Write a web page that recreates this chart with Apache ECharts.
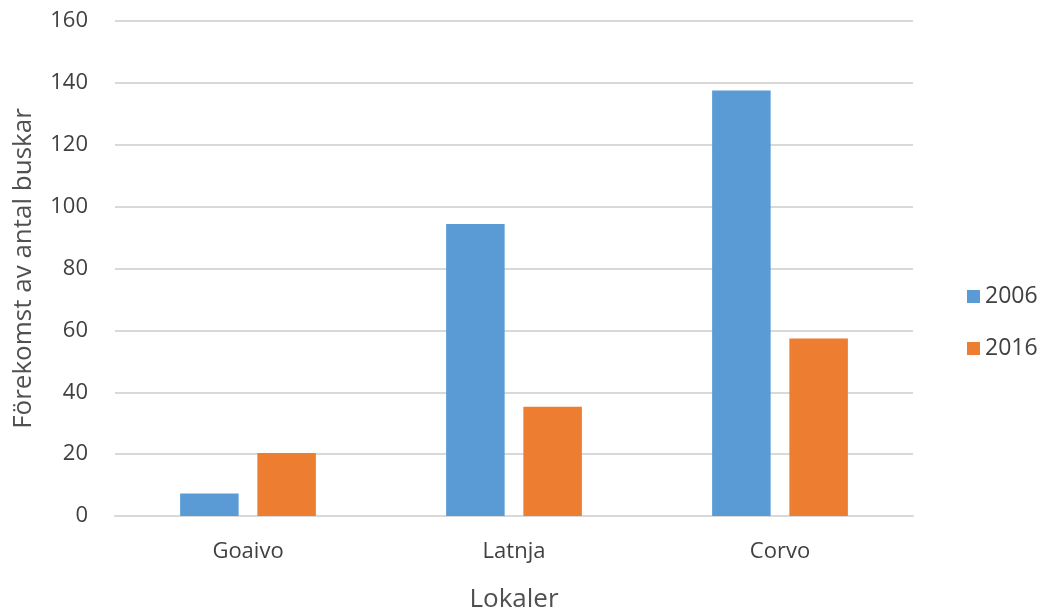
<!DOCTYPE html>
<html>
<head>
<meta charset="utf-8">
<script src="https://cdn.jsdelivr.net/npm/echarts@6/dist/echarts.min.js"></script>
<style>
  html, body { margin: 0; padding: 0; background: #fff; }
  #chart { width: 1046px; height: 614px; }
</style>
</head>
<body>
<div id="chart"></div>
<script>
var categories = ['Goaivo', 'Latnja', 'Corvo'];
var seriesNames = ['2006', '2016'];
var values2006 = [7.3, 94.4, 137.5];
var values2016 = [20.4, 35.3, 57.4];
var yTicks = [0, 20, 40, 60, 80, 100, 120, 140, 160];

var chart = echarts.init(document.getElementById('chart'));

var font = '"Open Sans", "Liberation Sans", sans-serif';

var option = {
    animation: false,
    textStyle: { fontFamily: font },
    grid: { left: 115, right: 133, top: 21, bottom: 98, outerBoundsMode: 'none', containLabel: false },
    legend: {
        orient: 'vertical',
        left: 962,
        top: 280,
        itemWidth: 13,
        itemHeight: 13,
        itemGap: 29,
        icon: 'rect',
        textStyle: { fontSize: 23, color: '#404040', fontFamily: font },
        data: seriesNames
    },
    xAxis: {
        type: 'category',
        data: categories,
        name: 'Lokaler',
        nameLocation: 'middle',
        nameGap: 71,
        nameTextStyle: { fontSize: 26, color: '#505050' },
        axisLine: { lineStyle: { color: '#d9d9d9', width: 2 } },
        axisTick: { show: false },
        axisLabel: { fontSize: 22, color: '#404040', margin: 25 }
    },
    yAxis: {
        type: 'value',
        min: yTicks[0],
        max: yTicks[yTicks.length - 1],
        interval: 20,
        name: 'Förekomst av antal buskar',
        nameLocation: 'middle',
        nameGap: 78,
        nameTextStyle: { fontSize: 26, color: '#505050' },
        axisLine: { show: false },
        axisTick: { show: false },
        axisLabel: { fontSize: 22, color: '#404040', margin: 27 },
        splitLine: { lineStyle: { color: '#d9d9d9', width: 2 } }
    },
    series: [
        {
            name: seriesNames[0],
            type: 'bar',
            data: values2006,
            barWidth: '22%',
            barGap: '32%',
            itemStyle: { color: '#5b9bd5' }
        },
        {
            name: seriesNames[1],
            type: 'bar',
            data: values2016,
            barWidth: '22%',
            itemStyle: { color: '#ed7d31' }
        }
    ]
};

chart.setOption(option);
</script>
</body>
</html>
